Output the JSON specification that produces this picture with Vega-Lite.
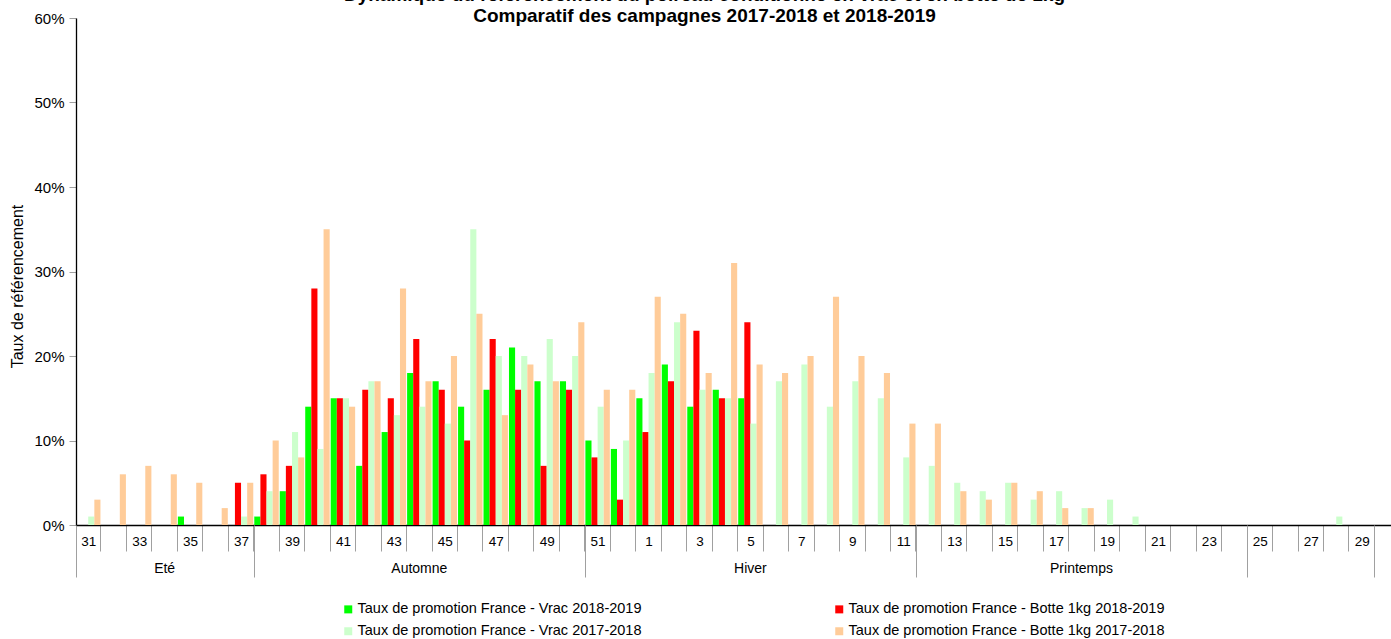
{
  "$schema": "https://vega.github.io/schema/vega-lite/v6.json",
  "autosize": {"type": "none"},
  "width": 1315,
  "height": 507,
  "padding": {"left": 76, "top": 18, "right": 0, "bottom": 114},
  "background": "white",
  "config": {
    "view": {"stroke": null},
    "font": "Liberation Sans",
    "axis": {"labelFont": "Liberation Sans", "titleFont": "Liberation Sans", "labelColor": "#000", "titleColor": "#000"}
  },
  "title": {
    "text": ["Dynamique du référencement du poireau conditionné en vrac et en botte de 1kg", "Comparatif des campagnes 2017-2018 et 2018-2019"],
    "font": "Liberation Sans",
    "fontSize": 19,
    "fontWeight": "bold",
    "color": "#000",
    "lineHeight": 21,
    "anchor": "middle",
    "dx": -29,
    "offset": -15
  },
  "data": {
    "values": [
      {"w": "31", "v1819": 0, "b1819": 0, "v1718": 1, "b1718": 3},
      {"w": "32", "v1819": 0, "b1819": 0, "v1718": 0, "b1718": 6},
      {"w": "33", "v1819": 0, "b1819": 0, "v1718": 0, "b1718": 7},
      {"w": "34", "v1819": 0, "b1819": 0, "v1718": 0, "b1718": 6},
      {"w": "35", "v1819": 1, "b1819": 0, "v1718": 0, "b1718": 5},
      {"w": "36", "v1819": 0, "b1819": 0, "v1718": 0, "b1718": 2},
      {"w": "37", "v1819": 0, "b1819": 5, "v1718": 1, "b1718": 5},
      {"w": "38", "v1819": 1, "b1819": 6, "v1718": 4, "b1718": 10},
      {"w": "39", "v1819": 4, "b1819": 7, "v1718": 11, "b1718": 8},
      {"w": "40", "v1819": 14, "b1819": 28, "v1718": 9, "b1718": 35},
      {"w": "41", "v1819": 15, "b1819": 15, "v1718": 15, "b1718": 14},
      {"w": "42", "v1819": 7, "b1819": 16, "v1718": 17, "b1718": 17},
      {"w": "43", "v1819": 11, "b1819": 15, "v1718": 13, "b1718": 28},
      {"w": "44", "v1819": 18, "b1819": 22, "v1718": 14, "b1718": 17},
      {"w": "45", "v1819": 17, "b1819": 16, "v1718": 12, "b1718": 20},
      {"w": "46", "v1819": 14, "b1819": 10, "v1718": 35, "b1718": 25},
      {"w": "47", "v1819": 16, "b1819": 22, "v1718": 20, "b1718": 13},
      {"w": "48", "v1819": 21, "b1819": 16, "v1718": 20, "b1718": 19},
      {"w": "49", "v1819": 17, "b1819": 7, "v1718": 22, "b1718": 17},
      {"w": "50", "v1819": 17, "b1819": 16, "v1718": 20, "b1718": 24},
      {"w": "51", "v1819": 10, "b1819": 8, "v1718": 14, "b1718": 16},
      {"w": "52", "v1819": 9, "b1819": 3, "v1718": 10, "b1718": 16},
      {"w": "1", "v1819": 15, "b1819": 11, "v1718": 18, "b1718": 27},
      {"w": "2", "v1819": 19, "b1819": 17, "v1718": 24, "b1718": 25},
      {"w": "3", "v1819": 14, "b1819": 23, "v1718": 16, "b1718": 18},
      {"w": "4", "v1819": 16, "b1819": 15, "v1718": 15, "b1718": 31},
      {"w": "5", "v1819": 15, "b1819": 24, "v1718": 12, "b1718": 19},
      {"w": "6", "v1819": 0, "b1819": 0, "v1718": 17, "b1718": 18},
      {"w": "7", "v1819": 0, "b1819": 0, "v1718": 19, "b1718": 20},
      {"w": "8", "v1819": 0, "b1819": 0, "v1718": 14, "b1718": 27},
      {"w": "9", "v1819": 0, "b1819": 0, "v1718": 17, "b1718": 20},
      {"w": "10", "v1819": 0, "b1819": 0, "v1718": 15, "b1718": 18},
      {"w": "11", "v1819": 0, "b1819": 0, "v1718": 8, "b1718": 12},
      {"w": "12", "v1819": 0, "b1819": 0, "v1718": 7, "b1718": 12},
      {"w": "13", "v1819": 0, "b1819": 0, "v1718": 5, "b1718": 4},
      {"w": "14", "v1819": 0, "b1819": 0, "v1718": 4, "b1718": 3},
      {"w": "15", "v1819": 0, "b1819": 0, "v1718": 5, "b1718": 5},
      {"w": "16", "v1819": 0, "b1819": 0, "v1718": 3, "b1718": 4},
      {"w": "17", "v1819": 0, "b1819": 0, "v1718": 4, "b1718": 2},
      {"w": "18", "v1819": 0, "b1819": 0, "v1718": 2, "b1718": 2},
      {"w": "19", "v1819": 0, "b1819": 0, "v1718": 3, "b1718": 0},
      {"w": "20", "v1819": 0, "b1819": 0, "v1718": 1, "b1718": 0},
      {"w": "21", "v1819": 0, "b1819": 0, "v1718": 0, "b1718": 0},
      {"w": "22", "v1819": 0, "b1819": 0, "v1718": 0, "b1718": 0},
      {"w": "23", "v1819": 0, "b1819": 0, "v1718": 0, "b1718": 0},
      {"w": "24", "v1819": 0, "b1819": 0, "v1718": 0, "b1718": 0},
      {"w": "25", "v1819": 0, "b1819": 0, "v1718": 0, "b1718": 0},
      {"w": "26", "v1819": 0, "b1819": 0, "v1718": 0, "b1718": 0},
      {"w": "27", "v1819": 0, "b1819": 0, "v1718": 0, "b1718": 0},
      {"w": "28", "v1819": 0, "b1819": 0, "v1718": 1, "b1718": 0},
      {"w": "29", "v1819": 0, "b1819": 0, "v1718": 0, "b1718": 0},
      {"w": "30", "v1819": 0, "b1819": 0, "v1718": 0, "b1718": 0}
    ]
  },
  "layer": [
    {
      "transform": [{"fold": ["v1819", "b1819", "v1718", "b1718"], "as": ["serie", "value"]}],
      "mark": {"type": "bar"},
      "encoding": {
        "x": {
          "field": "w", "type": "nominal",
          "scale": {"type": "band", "domain": ["31","32","33","34","35","36","37","38","39","40","41","42","43","44","45","46","47","48","49","50","51","52","1","2","3","4","5","6","7","8","9","10","11","12","13","14","15","16","17","18","19","20","21","22","23","24","25","26","27","28","29","30"], "range": [0, 1323.4], "paddingInner": 0.04, "paddingOuter": 0},
          "axis": {
            "orient": "bottom", "title": null, "tickBand": "extent",
            "labelExpr": "toNumber(datum.value) % 2 == 1 && datum.value != '30' ? datum.value : ''",
            "labelAngle": 0, "labelPadding": -17, "labelFontSize": 13.5,
            "tickSize": 26, "tickColor": "#a0a0a0", "domainColor": "#000", "domainWidth": 1.3, "labelOverlap": false, "labelBound": false
          }
        },
        "xOffset": {"field": "serie", "type": "nominal", "sort": ["v1819", "b1819", "v1718", "b1718"], "scale": {"paddingInner": 0, "paddingOuter": 0}},
        "y": {
          "field": "value", "type": "quantitative",
          "scale": {"domain": [0, 60]},
          "axis": {
            "title": "Taux de référencement", "titleFontSize": 16, "titleFontWeight": "normal", "titleX": -51, "titleY": 268,
            "values": [0, 10, 20, 30, 40, 50, 60], "labelExpr": "datum.value + '%'", "labelFontSize": 15,
            "grid": false, "tickSize": 7, "tickColor": "#a0a0a0", "domainColor": "#000", "domainWidth": 1.3, "labelPadding": 5
          }
        },
        "color": {
          "field": "serie", "type": "nominal",
          "scale": {"domain": ["v1819", "b1819", "v1718", "b1718"], "range": ["#00ff00", "#ff0000", "#ccffcc", "#ffcc99"]},
          "legend": {
            "title": null, "orient": "none", "legendX": 265, "legendY": 584, "columns": 2, "direction": "horizontal",
            "symbolType": "square", "symbolSize": 64, "symbolStrokeWidth": 0, "labelFontSize": 14.5, "labelFont": "Liberation Sans",
            "labelOffset": 2, "labelLimit": 500, "columnPadding": 190, "rowPadding": 7,
            "labelExpr": "{'v1819': 'Taux de promotion France - Vrac 2018-2019', 'b1819': 'Taux de promotion France - Botte 1kg 2018-2019', 'v1718': 'Taux de promotion France - Vrac 2017-2018', 'b1718': 'Taux de promotion France - Botte 1kg 2017-2018'}[datum.value]"
          }
        }
      }
    },
    {
      "mark": {"type": "point", "opacity": 0},
      "encoding": {
        "x": {
          "field": "w", "type": "nominal",
          "scale": {"type": "band", "domain": ["31","32","33","34","35","36","37","38","39","40","41","42","43","44","45","46","47","48","49","50","51","52","1","2","3","4","5","6","7","8","9","10","11","12","13","14","15","16","17","18","19","20","21","22","23","24","25","26","27","28","29","30"], "range": [0, 1323.4], "paddingInner": 0.04, "paddingOuter": 0},
          "axis": {
            "orient": "bottom", "title": null, "bandPosition": 0, "domain": false,
            "values": ["31", "38", "51", "12", "25", "30"], "labels": false,
            "tickSize": 52, "tickColor": "#a0a0a0"
          }
        }
      }
    },
    {
      "mark": {"type": "point", "opacity": 0},
      "encoding": {
        "x": {
          "field": "w", "type": "nominal",
          "scale": {"type": "band", "domain": ["31","32","33","34","35","36","37","38","39","40","41","42","43","44","45","46","47","48","49","50","51","52","1","2","3","4","5","6","7","8","9","10","11","12","13","14","15","16","17","18","19","20","21","22","23","24","25","26","27","28","29","30"], "range": [0, 1323.4], "paddingInner": 0.04, "paddingOuter": 0},
          "axis": {
            "orient": "bottom", "title": null, "domain": false, "ticks": false, "tickSize": 0,
            "values": ["34", "44", "5", "18"], "labelAngle": 0, "labelFontSize": 14, "labelPadding": 36,
            "labelExpr": "{'34': 'Eté', '44': 'Automne', '5': 'Hiver', '18': 'Printemps'}[datum.value]"
          }
        }
      }
    }
  ],
  "resolve": {"scale": {"x": "independent"}}
}
